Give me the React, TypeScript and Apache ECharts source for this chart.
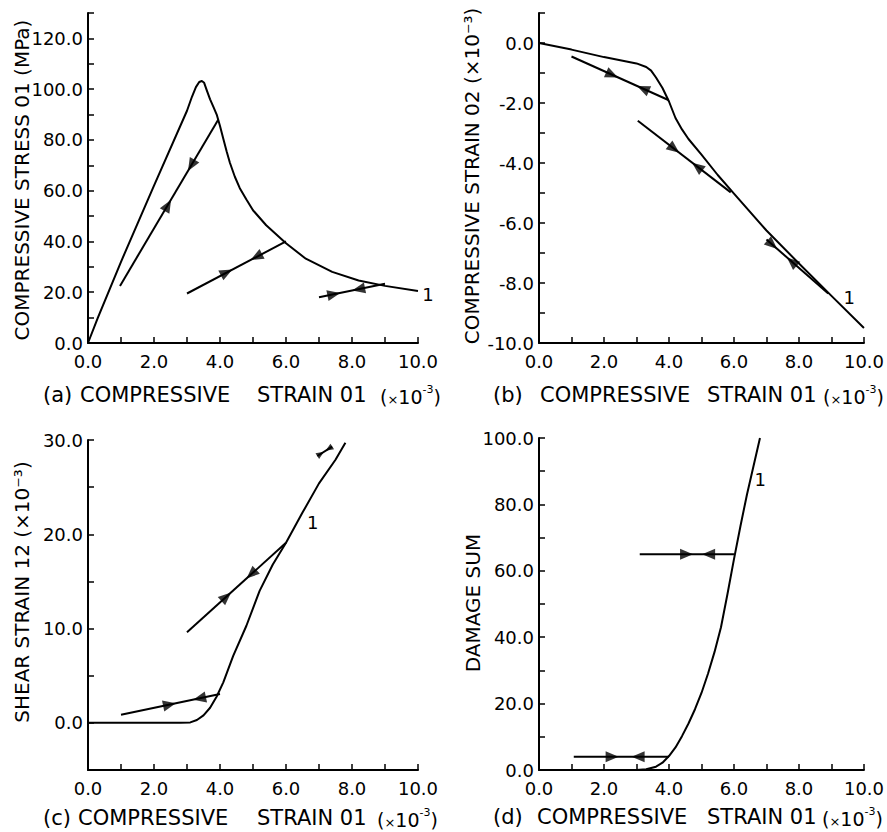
import React, { useEffect, useRef } from "react";
import * as echarts from "echarts";

// ---------- data ----------
// Panel (a): compressive stress 01 (MPa) vs compressive strain 01 (x10^-3)
const aEnvelope = [[0, 0], [0.3, 10], [1.0, 32], [2.0, 62], [3.0, 91.5], [3.15, 97], [3.27, 100.8], [3.37, 102.8], [3.45, 103.2], [3.52, 102.5], [3.6, 99.5], [3.7, 96], [3.8, 93], [3.9, 90], [4.0, 85.5], [4.1, 80.5], [4.2, 75.5], [4.3, 71], [4.45, 65.5], [4.6, 61], [4.8, 56.5], [5.0, 52.3], [5.4, 46.4], [6.0, 39.3], [6.6, 33.2], [7.4, 28], [8.2, 24.6], [9.0, 22.5], [10.0, 20.5]];
const aUnload1 = [[0.97, 22.5], [3.95, 88]];
const aUnload2 = [[3.0, 19.5], [6.0, 40]];
const aUnload3 = [[7.0, 18.0], [9.0, 23.3]];
const aArrows = [[[2.42, 54.2], [3.13, 70.0]], [[4.2, 27.8], [5.1, 33.9]], [[7.45, 19.2], [8.2, 21.2]]];
const aCurveTag = [10.3, 19];

// Panel (b): compressive strain 02 (x10^-3)
const bEnvelope = [[0, 0], [1.0, -0.22], [2.0, -0.47], [3.0, -0.68], [3.3, -0.8], [3.45, -0.92], [3.6, -1.15], [3.8, -1.5], [4.0, -1.95], [4.2, -2.5], [4.4, -2.88], [4.6, -3.2], [5.0, -3.72], [5.5, -4.4], [6.0, -5.02], [7.0, -6.25], [8.0, -7.35], [9.0, -8.43], [10.0, -9.5]];
const bUnload1 = [[1.0, -0.45], [3.98, -1.9]];
const bUnload2 = [[3.04, -2.59], [5.9, -4.98]];
const bUnload3 = [[7.0, -6.55], [8.9, -8.35]];
const bArrows = [[[2.25, -1.06], [3.2, -1.52]], [[4.16, -3.53], [4.87, -4.12]], [[7.18, -6.72], [7.78, -7.29]]];
const bCurveTag = [9.55, -8.49];

// Panel (c): shear strain 12 (x10^-3)
const cEnvelope = [[0, 0], [2.8, 0], [3.1, 0.05], [3.3, 0.3], [3.5, 0.8], [3.7, 1.6], [3.9, 2.8], [4.1, 4.3], [4.4, 7.1], [4.8, 10.3], [5.2, 14.0], [5.6, 16.8], [6.0, 19.1], [6.5, 22.3], [7.0, 25.4], [7.5, 27.9], [7.8, 29.7]];
const cUnload1 = [[1.0, 0.85], [4.0, 3.05]];
const cUnload2 = [[3.0, 9.6], [6.0, 19.1]];
const cUnload3 = [[6.95, 28.3], [7.4, 29.3]];
const cArrows = [[[2.47, 1.93], [3.38, 2.6]], [[4.19, 13.37], [4.95, 15.78]], [[7.05, 28.52], [7.3, 29.08]]];
const cCurveTag = [6.81, 21.3];

// Panel (d): damage sum
const dEnvelope = [[0, 0], [3.0, 0], [3.3, 0.2], [3.6, 1.0], [3.8, 2.2], [4.0, 4.2], [4.2, 6.8], [4.4, 10.2], [4.6, 14], [4.8, 18.3], [5.0, 23.2], [5.2, 29], [5.4, 35.5], [5.6, 43], [5.8, 53], [6.0, 63.5], [6.2, 73.5], [6.4, 83], [6.6, 91.5], [6.8, 100]];
const dUnload1 = [[1.07, 4], [4.0, 4]];
const dUnload2 = [[3.1, 65], [6.0, 65]];
const dArrows = [[[2.25, 4], [3.05, 4]], [[4.54, 65], [5.22, 65]]];
const dCurveTag = [6.81, 87.4];

// axis ranges: [min, max, tick interval, label step]
const xRange = [0, 10, 1, 2];
const aYRange = [0, 130, 10, 20];
const bYRange = [-10, 1, 1, 2];
const cYRange = [-5, 30, 5, 10];
const dYRange = [0, 100, 10, 20];

const yTitles = ["COMPRESSIVE STRESS 01 (MPa)", "COMPRESSIVE STRAIN 02 (×10⁻³)", "SHEAR STRAIN 12 (×10⁻³)", "DAMAGE SUM"];
const panelTags = ["(a)", "(b)", "(c)", "(d)"];
const xTitleWords = ["COMPRESSIVE", "STRAIN 01"];
const scaleNote = "{p|(}{m|×}{p|10}{s|-3}{p|)}";

const panels = [
  { env: aEnvelope, unloads: [aUnload1, aUnload2, aUnload3], arrows: aArrows, tag: aCurveTag, y: aYRange },
  { env: bEnvelope, unloads: [bUnload1, bUnload2, bUnload3], arrows: bArrows, tag: bCurveTag, y: bYRange },
  { env: cEnvelope, unloads: [cUnload1, cUnload2, cUnload3], arrows: cArrows, tag: cCurveTag, y: cYRange },
  { env: dEnvelope, unloads: [dUnload1, dUnload2], arrows: dArrows, tag: dCurveTag, y: dYRange },
];

// ---------- layout ----------
const FONT = "DejaVu Sans";
const grids = [
  { left: 88, top: 13, width: 330, height: 330 },
  { left: 539, top: 13, width: 329, height: 330 },
  { left: 88, top: 440, width: 330, height: 330 },
  { left: 539, top: 438, width: 329, height: 332 },
];
const yTitlePos = [[22, 180], [472, 176], [22, 592], [473, 603]];
const xTitlePos = [
  { y: 395, xs: [43, 80, 257, 380] },
  { y: 395, xs: [493, 540, 707, 823] },
  { y: 818, xs: [43, 78, 257, 377] },
  { y: 817, xs: [493, 537, 707, 822] },
];

function stepFormatter(step: number) {
  return (v: number) => {
    const r = Math.round(v);
    if (Math.abs(v - r) > 1e-6 || r % step !== 0) return "";
    return r.toFixed(1);
  };
}

function axisCommon() {
  return {
    type: "value" as const,
    axisLine: { show: true, onZero: false, lineStyle: { color: "#000", width: 2 } },
    axisTick: { show: true, inside: true, length: 6, lineStyle: { color: "#000", width: 1.5 } },
    splitLine: { show: false },
  };
}

function buildOption() {
  const xAxis = panels.map((p, i) => ({
    ...axisCommon(),
    gridIndex: i,
    min: xRange[0],
    max: xRange[1],
    interval: xRange[2],
    axisLabel: { color: "#000", fontFamily: FONT, fontSize: 18, margin: 9, formatter: stepFormatter(xRange[3]) },
  }));
  const yAxis = panels.map((p, i) => ({
    ...axisCommon(),
    gridIndex: i,
    min: p.y[0],
    max: p.y[1],
    interval: p.y[2],
    axisLabel: { color: "#000", fontFamily: FONT, fontSize: 18, margin: 5, formatter: stepFormatter(p.y[3]) },
  }));
  const series: any[] = [];
  panels.forEach((p, i) => {
    series.push({
      type: "line", xAxisIndex: i, yAxisIndex: i, data: p.env, symbol: "none", smooth: false,
      lineStyle: { color: "#000", width: 2, join: "round" }, silent: true,
    });
    p.unloads.forEach((u) => {
      series.push({
        type: "line", xAxisIndex: i, yAxisIndex: i, data: u, symbol: "none",
        lineStyle: { color: "#000", width: 2 }, silent: true,
      });
    });
    series.push({
      type: "scatter", xAxisIndex: i, yAxisIndex: i, data: [p.tag], symbolSize: 0, clip: false, silent: true,
      itemStyle: { color: "#000", opacity: 1 },
      label: {
        show: true, position: "inside", formatter: "1", color: "#000", fontFamily: FONT, fontSize: 18,
        textBorderWidth: 0, opacity: 1,
      },
    });
    series.push({
      id: "arrows" + i, type: "scatter", xAxisIndex: i, yAxisIndex: i, symbol: "triangle", symbolSize: [11, 13],
      itemStyle: { color: "#000" }, silent: true, clip: false, z: 5,
      data: p.arrows.flat(),
    });
  });

  const graphic: any[] = [];
  yTitles.forEach((t, i) => {
    graphic.push({
      type: "text", x: yTitlePos[i][0], y: yTitlePos[i][1], rotation: Math.PI / 2,
      style: { text: t, font: `20px "${FONT}"`, fill: "#000", textAlign: "center", textVerticalAlign: "middle" },
    });
  });
  xTitlePos.forEach((pos, i) => {
    const words = [panelTags[i], ...xTitleWords];
    words.forEach((w, k) => {
      graphic.push({
        type: "text", x: pos.xs[k], y: pos.y,
        style: { text: w, font: `21px "${FONT}"`, fill: "#000", textAlign: "left", textVerticalAlign: "middle" },
      });
    });
    graphic.push({
      type: "text", x: pos.xs[3], y: pos.y,
      style: {
        text: scaleNote, fill: "#000", textAlign: "left", textVerticalAlign: "middle",
        rich: {
          p: { fontFamily: FONT, fontSize: 19, fill: "#000", verticalAlign: "bottom", lineHeight: 22 },
          m: { fontFamily: FONT, fontSize: 13, fill: "#000", verticalAlign: "bottom", lineHeight: 20 },
          s: { fontFamily: FONT, fontSize: 11, fill: "#000", verticalAlign: "top", lineHeight: 14 },
        },
      },
    });
  });

  return {
    animation: false,
    backgroundColor: "#fff",
    grid: grids.map((g) => ({ ...g, containLabel: false })),
    xAxis,
    yAxis,
    series,
    graphic,
  };
}

export default function App() {
  const ref = useRef<HTMLDivElement>(null);
  useEffect(() => {
    if (!ref.current) return;
    const chart = echarts.init(ref.current, null, { renderer: "svg" });
    chart.setOption(buildOption() as any);
    // orient arrow heads along their unloading/reloading line, pointing toward each other
    const upd = panels.map((p, i) => {
      const data: any[] = [];
      p.arrows.forEach((pair) => {
        const [a, b] = pair;
        const pa = chart.convertToPixel({ xAxisIndex: i, yAxisIndex: i } as any, a) as number[];
        const pb = chart.convertToPixel({ xAxisIndex: i, yAxisIndex: i } as any, b) as number[];
        const dx = pb[0] - pa[0];
        const dy = pb[1] - pa[1];
        const dist = Math.hypot(dx, dy);
        const ang = (Math.atan2(-dy, dx) * 180) / Math.PI - 90;
        const s = Math.min(1, dist / 16);
        const size = [11 * s, 13 * s];
        data.push({ value: a, symbolRotate: ang, symbolSize: size });
        data.push({ value: b, symbolRotate: ang + 180, symbolSize: size });
      });
      return { id: "arrows" + i, data };
    });
    chart.setOption({ series: upd } as any);
    return () => chart.dispose();
  }, []);
  return <div ref={ref} style={{ position: "absolute", left: 0, top: 0, width: 887, height: 832, background: "#fff" }} />;
}
